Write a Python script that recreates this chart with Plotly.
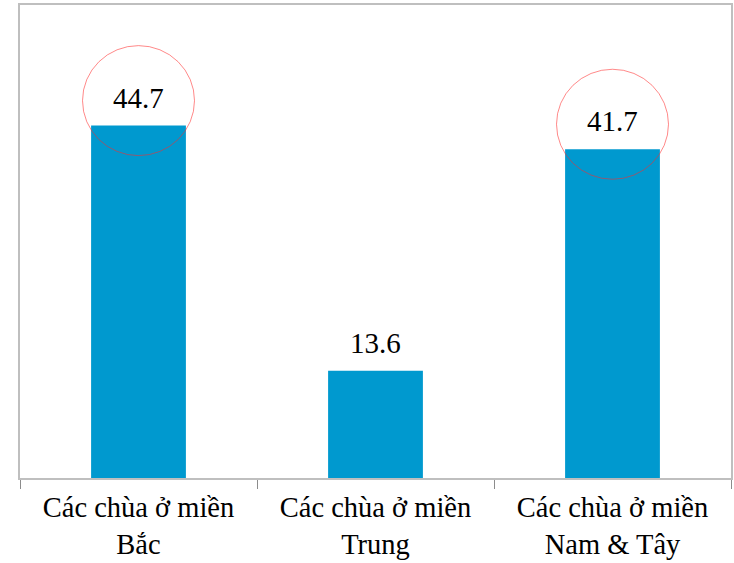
import plotly.graph_objects as go

categories = ["Các chùa ở miền<br>Bắc", "Các chùa ở miền<br>Trung", "Các chùa ở miền<br>Nam & Tây"]
values = [44.7, 13.6, 41.7]
labels = ["44.7", "13.6", "41.7"]
highlighted = [True, False, True]

fig = go.Figure()
fig.add_trace(go.Bar(x=categories, y=values, marker=dict(color="#0099CF", line=dict(width=0)),
                     width=0.4, hoverinfo="skip"))

for i, (c, v, t) in enumerate(zip(categories, values, labels)):
    fig.add_annotation(x=c, y=v, text=t, showarrow=False, yanchor="bottom", yshift=10,
                       font=dict(family="Liberation Serif", size=29, color="#000000"))
    if highlighted[i]:
        fig.add_shape(type="circle", xref="x", yref="y", xsizemode="pixel", ysizemode="pixel",
                      xanchor=i, yanchor=v, x0=-56, x1=56, y0=-30, y1=80,
                      line=dict(color="rgba(255,40,40,0.55)", width=1))

fig.update_layout(
    width=734, height=563,
    margin=dict(l=20, r=3, t=5, b=85),
    paper_bgcolor="white", plot_bgcolor="white",
    showlegend=False, bargap=0.6,
    font=dict(family="Liberation Serif", size=28.5, color="#000000"),
)
fig.update_xaxes(showline=True, mirror=True, linecolor="#BFBFBF", linewidth=2,
                 ticks="outside", tickson="boundaries", ticklen=9, tickwidth=1, tickcolor="#8C8C8C",
                 tickfont=dict(family="Liberation Serif", size=28.5, color="#000000"),
                 ticklabelstandoff=3, automargin=False, showgrid=False)
fig.update_yaxes(range=[0, 60], showline=True, mirror=True, linecolor="#BFBFBF", linewidth=2,
                 showticklabels=False, showgrid=False, zeroline=False, ticks="", automargin=False)

fig.write_html("out.html", config={"displayModeBar": False},
               post_script="document.body.style.margin='0';")
